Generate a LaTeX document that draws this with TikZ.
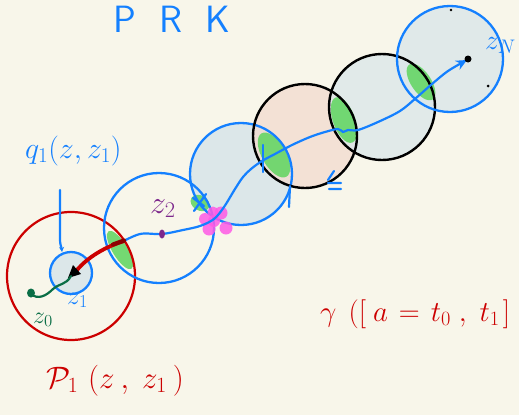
\RequirePackage{fix-cm}
\documentclass[tikz,border=0pt]{standalone}
\usetikzlibrary{arrows.meta}
\definecolor{bg}{RGB}{248,246,234}
\definecolor{pblue}{RGB}{20,128,255}
\definecolor{lblue}{RGB}{220,231,233}
\definecolor{salmon}{RGB}{242,220,208}
\definecolor{pred}{RGB}{204,0,0}
\definecolor{dred}{RGB}{140,0,0}
\definecolor{pgreen}{RGB}{102,214,102}
\definecolor{pmag}{RGB}{255,90,230}
\definecolor{ppurple}{RGB}{125,40,140}
\definecolor{dgreen}{RGB}{10,110,70}
\begin{document}
\begin{tikzpicture}[x=1pt,y=-1pt,
  bluecirc/.style={draw=pblue, line width=2.3pt},
  blackcirc/.style={draw=black, line width=2.4pt},
  redcirc/.style={draw=pred, line width=2.2pt},
  greenblob/.style={fill=pgreen, fill opacity=0.9},
  inkline/.style={line width=2.2pt, line cap=round, line join=round},
  lbl/.style={anchor=base west, inner sep=0pt}]
\useasboundingbox (0,0) rectangle (519,415);
\fill[bg] (0,0) rectangle (519,415);

% fills
\fill[lblue] (71,273) circle (21);
\fill[lblue] (241,174) circle (51);
\fill[salmon, fill opacity=0.8] (305,136) circle (52);
\fill[lblue, fill opacity=0.8] (382,107) circle (53);
\fill[lblue, fill opacity=0.85] (450,59) circle (53);

% green blobs
\fill[greenblob, rotate around={-58.6:(120,250)}] (120,250) ellipse [x radius=22, y radius=7.5];
\fill[greenblob, rotate around={-30:(200,203)}] (200,203) ellipse [x radius=10, y radius=7.5];
\fill[greenblob, rotate around={-60:(274,155)}] (274,155) ellipse [x radius=25, y radius=12];
\fill[greenblob, rotate around={-70:(344,120)}] (344,120) ellipse [x radius=24, y radius=11];
\fill[greenblob, rotate around={-56:(421,82)}] (421,82) ellipse [x radius=21, y radius=10];

% outlines
\draw[redcirc] (71,276) circle (64);
\draw[bluecirc] (71,273) circle (21);
\draw[bluecirc] (159,228) circle (55);
\draw[bluecirc] (241,174) circle (51);
\draw[blackcirc] (305,136) circle (52);
\draw[blackcirc] (382,107) circle (53);
\draw[bluecirc] (450,59) circle (53);

% magenta star
\foreach \p/\r in {(214,221)/6,(221,213)/6.5,(226,228)/6.5,(209,229)/6.5,(205,219)/6,(213,212)/5.5}
  \fill[pmag, fill opacity=0.85] \p circle (\r);

% main blue path
\coordinate (zN) at (467,60);
\draw[pblue, line width=2.2pt, line cap=round, -{Stealth[length=11pt,width=10pt]}]
  plot[smooth, tension=0.55] coordinates {(120,243) (140,234) (162,234) (183,230) (200,226) (214,219) (224,207) (235,189) (243,177) (251,169) (262,161) (275,154) (292,145) (310,137) (325,132) (338,129) (343,132) (348,130) (358,130) (378,122) (400,111) (416,98) (432,84) (448,71) (zN)};

% blue marks
\draw[pblue, inkline] (263,145) -- (263,172);
\draw[pblue, inkline] (290,186) -- (289,207);
\draw[pblue, inkline] (194,211) -- (206,194) (193,198) -- (204,206);
\draw[pblue, inkline] (334,171) -- (328,180) (328,183) -- (341,183) (329,189) -- (341,189);

% red arrow to z1
\coordinate (redstart) at (124,241);
\coordinate (redend) at (77,270);
\draw[pred, line width=3.8pt, line cap=round] (redstart) .. controls (105,247) and (88,257) .. (redend);
\draw[dred, line width=4.2pt, line cap=round] (124,240.5) -- (113,244.5);
\fill[black] (68,278) -- (81,274) -- (73,265) -- cycle;

% green path from z0
\fill[dgreen] (31,293) ellipse [x radius=4, y radius=4.5];
\draw[dgreen, inkline] (31,294) .. controls (38,300) and (46,296) .. (53,289) .. controls (60,283) and (66,285) .. (71,276);

% purple dot z2
\fill[ppurple] (162,234) ellipse [x radius=3, y radius=4.5];

% black dots
\fill[black] (468,59) circle (3.5);
\fill[black] (451,10) circle (1.3);
\fill[black] (488,86) circle (1.5);

% label arrow q -> small circle
\coordinate (qa) at (60,190);
\coordinate (qb) at (62,252);
\draw[pblue, inkline, -{Stealth[length=5pt,width=5pt]}] (qa) -- (60,240) to[out=-90,in=95] (qb);

% labels
\node[lbl, text=pblue, font=\sffamily\fontsize{38}{38}\selectfont] (prk) at (113,32) {P\hspace{24pt}R\hspace{22pt}K};
\node[lbl, text=pblue, font=\fontsize{30}{30}\selectfont] (qlab) at (25,158) {$q_1(z,z_1)$};
\node[lbl, text=ppurple, font=\fontsize{32}{32}\selectfont] (z2lab) at (150,213) {$z_2$};
\node[lbl, text=pblue, font=\fontsize{26}{26}\selectfont] (z1lab) at (67,304) {$z_1$};
\node[lbl, text=dgreen, font=\fontsize{24}{24}\selectfont] (z0lab) at (33,323) {$z_0$};
\node[lbl, text=pblue, font=\fontsize{28}{28}\selectfont] (zNlab) at (485,49) {$z_N$};
\node[lbl, text=pred, font=\fontsize{31}{31}\selectfont] (plab) at (46,388) {$\mathcal{P}_1\hspace{10pt}(z\hspace{6pt},\hspace{8pt}z_1\hspace{6pt})$};
\node[lbl, text=pred, font=\fontsize{29}{29}\selectfont] (glab) at (320,321) {$\gamma\hspace{12pt}([\hspace{7pt}a\hspace{3pt}=\hspace{3pt}t_0\hspace{8pt},\hspace{8pt}t_1\hspace{3pt}]$};
\end{tikzpicture}
\end{document}
